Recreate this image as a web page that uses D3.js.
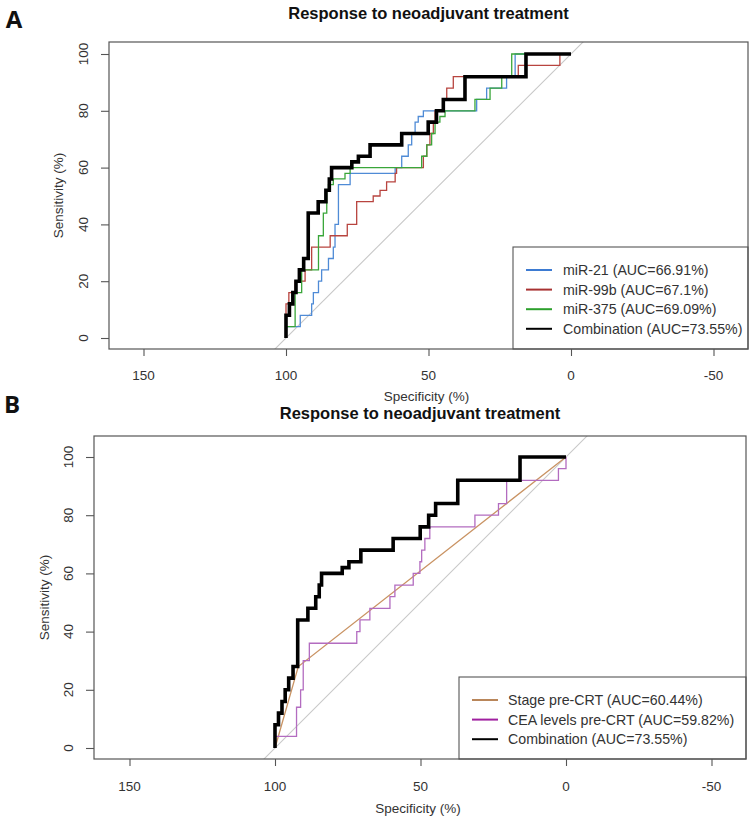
<!DOCTYPE html>
<html>
<head>
<meta charset="utf-8">
<script src="https://cdn.jsdelivr.net/npm/d3@7"></script>
<style>
  html, body { margin: 0; padding: 0; background: #fff; }
  svg { display: block; }
  text { font-family: "Liberation Sans", Arial, sans-serif; }
</style>
</head>
<body>
<svg id="chart" width="750" height="823"></svg>
<script>
// ---------------- DATA ----------------
const xTicks = [150, 100, 50, 0, -50];
const yTicks = [0, 20, 40, 60, 80, 100];
const chartTitle = "Response to neoadjuvant treatment";
const xLabel = "Specificity (%)";
const yLabel = "Sensitivity (%)";

// ROC step vertices as [specificity, sensitivity]
const combination = [[100,0],[100,8],[98.8,8],[98.8,12],[97.6,12],[97.6,16],[96.5,16],[96.5,20],[95.3,20],[95.3,24],[93.8,24],[93.8,28],[92.2,28],[92.2,44],[88.7,44],[88.7,48],[86,48],[86,52],[84.8,52],[84.8,56],[84,56],[84,60],[76.9,60],[76.9,62],[74.6,62],[74.6,64],[70.5,64],[70.5,68],[59.4,68],[59.4,72],[50.1,72],[50.1,76],[47.2,76],[47.2,80],[44.8,80],[44.8,84],[37.2,84],[37.2,92],[15.8,92],[15.8,100],[0,100]];
const mir21 = [[100,0],[100,4],[95,4],[95,8],[91,8],[91,12],[90.4,12],[90.4,16],[88.6,16],[88.6,20],[87.5,20],[87.5,24],[85.1,24],[85.1,28],[83.4,28],[83.4,32],[82.8,32],[82.8,40],[81.6,40],[81.6,54],[77.5,54],[77.5,58],[61.7,58],[61.7,60],[59.4,60],[59.4,64],[57.1,64],[57.1,68],[55.9,68],[55.9,72],[54.7,72],[54.7,76],[53.6,76],[53.6,78],[51.8,78],[51.8,80],[33.1,80],[33.1,84],[29.6,84],[29.6,88],[22.6,88],[22.6,92],[19.6,92],[19.6,100],[0,100]];
const mir99b = [[100,0],[100,12],[99,12],[99,16],[96.8,16],[96.8,20],[93.3,20],[93.3,24],[91,24],[91,32],[84.5,32],[84.5,36],[78.5,36],[78.5,40],[75.2,40],[75.2,48],[69.4,48],[69.4,50],[67,50],[67,52],[64.7,52],[64.7,55],[61.7,55],[61.7,58],[61.2,58],[61.2,60],[51.8,60],[51.8,64],[50.6,64],[50.6,68],[49.5,68],[49.5,72],[48.3,72],[48.3,76],[47.7,76],[47.7,80],[44.8,80],[44.8,84],[43.6,84],[43.6,88],[41.3,88],[41.3,92],[18.5,92],[18.5,96],[3.9,96],[3.9,100],[0,100]];
const mir375 = [[100,0],[100,4],[96.8,4],[96.8,16],[94.5,16],[94.5,24],[88.6,24],[88.6,36],[86.9,36],[86.9,44],[85.7,44],[85.7,52],[85.1,52],[85.1,54],[83.4,54],[83.4,56],[79.3,56],[79.3,58],[77.5,58],[77.5,60],[52.4,60],[52.4,64],[50.6,64],[50.6,68],[48.9,68],[48.9,72],[47.7,72],[47.7,76],[46,76],[46,78],[44.2,78],[44.2,80],[33.7,80],[33.7,84],[28.4,84],[28.4,88],[24.3,88],[24.3,92],[20.8,92],[20.8,100],[0,100]];
const stagePreCRT = [[100,0],[92,28],[0,100]];
const ceaPreCRT = [[100,0],[100,4],[92.6,4],[92.6,14],[91.2,14],[91.2,20],[90.3,20],[90.3,30],[88.2,30],[88.2,36],[71.9,36],[71.9,40],[70.8,40],[70.8,44],[67.4,44],[67.4,48],[60.5,48],[60.5,52],[58.8,52],[58.8,56],[52.5,56],[52.5,60],[50.2,60],[50.2,64],[49.6,64],[49.6,68],[48.5,68],[48.5,72],[46.8,72],[46.8,76],[31.3,76],[31.3,80],[23.2,80],[23.2,84],[20.4,84],[20.4,92],[2.6,92],[2.6,96],[0,96],[0,100]];

const panelALegend = ["miR-21 (AUC=66.91%)", "miR-99b (AUC=67.1%)", "miR-375 (AUC=69.09%)", "Combination (AUC=73.55%)"];
const panelBLegend = ["Stage pre-CRT (AUC=60.44%)", "CEA levels pre-CRT (AUC=59.82%)", "Combination (AUC=73.55%)"];

// ---------------- LAYOUT ----------------
const svg = d3.select("#chart");
const textCol = "#333";

const panels = [
  {
    letter: "A", letterPos: [14, 28],
    box: {left: 109, right: 748, top: 42, bottom: 349},
    xr: [286, 571], yr: [338, 54],
    titleY: 19, xTickLabelY: 380, xTitleY: 401, yTickLabelX: 88, yTitleX: 63,
    series: [
      {data: mir21, color: "#4f8bd6", w: 1.3},
      {data: mir99b, color: "#b8443f", w: 1.3},
      {data: mir375, color: "#3aa63a", w: 1.3},
      {data: combination, color: "#000", w: 3.6}
    ],
    legend: {labels: panelALegend, colors: ["#3d7bd2", "#a83232", "#2ca02c", "#000"],
             left: 513, top: 247, rowY0: 270, rowDy: 19.6, lineX: [526, 552], textX: 563}
  },
  {
    letter: "B", letterPos: [12, 413],
    box: {left: 94, right: 746, top: 436, bottom: 759},
    xr: [275, 566], yr: [748, 457],
    titleY: 419, xTickLabelY: 791, xTitleY: 813, yTickLabelX: 73, yTitleX: 49,
    series: [
      {data: stagePreCRT, color: "#c99363", w: 1.3},
      {data: ceaPreCRT, color: "#b36cc0", w: 1.3},
      {data: combination, color: "#000", w: 3.6}
    ],
    legend: {labels: panelBLegend, colors: ["#b9865a", "#a020a0", "#000"],
             left: 459, top: 677, rowY0: 700, rowDy: 19.6, lineX: [472, 498], textX: 508}
  }
];

panels.forEach((p, i) => {
  const g = svg.append("g");
  const b = p.box;
  const x = d3.scaleLinear().domain([100, 0]).range(p.xr);
  const y = d3.scaleLinear().domain([0, 100]).range(p.yr);

  // panel letter
  g.append("text").attr("x", p.letterPos[0]).attr("y", p.letterPos[1])
    .attr("text-anchor", "middle").attr("font-size", 24).attr("font-weight", "bold")
    .attr("fill", "#111").style("font-family", "'Open Sans', 'Liberation Sans', sans-serif")
    .text(p.letter);

  // title
  g.append("text").attr("x", (b.left + b.right) / 2).attr("y", p.titleY)
    .attr("text-anchor", "middle").attr("font-size", 16.5).attr("font-weight", "bold")
    .attr("fill", "#111").text(chartTitle);

  // clip
  const clipId = "clip" + i;
  svg.append("clipPath").attr("id", clipId).append("rect")
    .attr("x", b.left).attr("y", b.top).attr("width", b.right - b.left).attr("height", b.bottom - b.top);

  const plot = g.append("g").attr("clip-path", `url(#${clipId})`);

  // diagonal reference (sens = 100 - spec)
  const diag = [-20, 120].map(s => [s, 100 - s]);
  plot.append("path")
    .attr("d", d3.line().x(d => x(d[0])).y(d => y(d[1]))(diag))
    .attr("fill", "none").attr("stroke", "#c8c8c8").attr("stroke-width", 1.1);

  // ROC curves
  const line = d3.line().x(d => x(d[0])).y(d => y(d[1]));
  p.series.forEach(s => {
    plot.append("path").attr("d", line(s.data))
      .attr("fill", "none").attr("stroke", s.color).attr("stroke-width", s.w)
      .attr("stroke-linejoin", "miter").attr("stroke-linecap", "butt");
  });

  // axes
  const xAxis = g.append("g").attr("transform", `translate(0,${b.bottom})`)
    .call(d3.axisBottom(x).tickValues(xTicks).tickSize(7).tickFormat(d3.format("d")));
  xAxis.select(".domain").remove();
  xAxis.selectAll("line").attr("stroke", "#555").attr("stroke-width", 1.1);
  xAxis.selectAll("text").remove();
  xTicks.forEach(t => {
    g.append("text").attr("x", x(t)).attr("y", p.xTickLabelY).attr("text-anchor", "middle")
      .attr("font-size", 13.5).attr("fill", textCol).text(t);
  });

  const yAxis = g.append("g").attr("transform", `translate(${b.left},0)`)
    .call(d3.axisLeft(y).tickValues(yTicks).tickSize(8));
  yAxis.select(".domain").remove();
  yAxis.selectAll("line").attr("stroke", "#555").attr("stroke-width", 1.1);
  yAxis.selectAll("text").remove();
  yTicks.forEach(t => {
    g.append("text")
      .attr("transform", `translate(${p.yTickLabelX},${y(t)}) rotate(-90)`)
      .attr("text-anchor", "middle").attr("font-size", 13.5).attr("fill", textCol).text(t);
  });

  // axis titles
  g.append("text").attr("x", (b.left + b.right) / 2 - 2).attr("y", p.xTitleY)
    .attr("text-anchor", "middle").attr("font-size", 13.5).attr("fill", textCol).text(xLabel);
  g.append("text")
    .attr("transform", `translate(${p.yTitleX},${(b.top + b.bottom) / 2}) rotate(-90)`)
    .attr("text-anchor", "middle").attr("font-size", 13.5).attr("fill", textCol).text(yLabel);

  // legend
  const L = p.legend;
  g.append("rect").attr("x", L.left).attr("y", L.top)
    .attr("width", b.right - L.left).attr("height", b.bottom - L.top)
    .attr("fill", "#fff").attr("stroke", "#555").attr("stroke-width", 1.1);
  L.labels.forEach((lab, k) => {
    const yy = L.rowY0 + k * L.rowDy;
    g.append("line").attr("x1", L.lineX[0]).attr("x2", L.lineX[1]).attr("y1", yy).attr("y2", yy)
      .attr("stroke", L.colors[k]).attr("stroke-width", 2);
    g.append("text").attr("x", L.textX).attr("y", yy).attr("dy", "0.35em")
      .attr("font-size", 14.2).attr("fill", textCol).text(lab);
  });

  // plot box
  g.append("rect").attr("x", b.left).attr("y", b.top)
    .attr("width", b.right - b.left).attr("height", b.bottom - b.top)
    .attr("fill", "none").attr("stroke", "#555").attr("stroke-width", 1.2);
});
</script>
</body>
</html>
